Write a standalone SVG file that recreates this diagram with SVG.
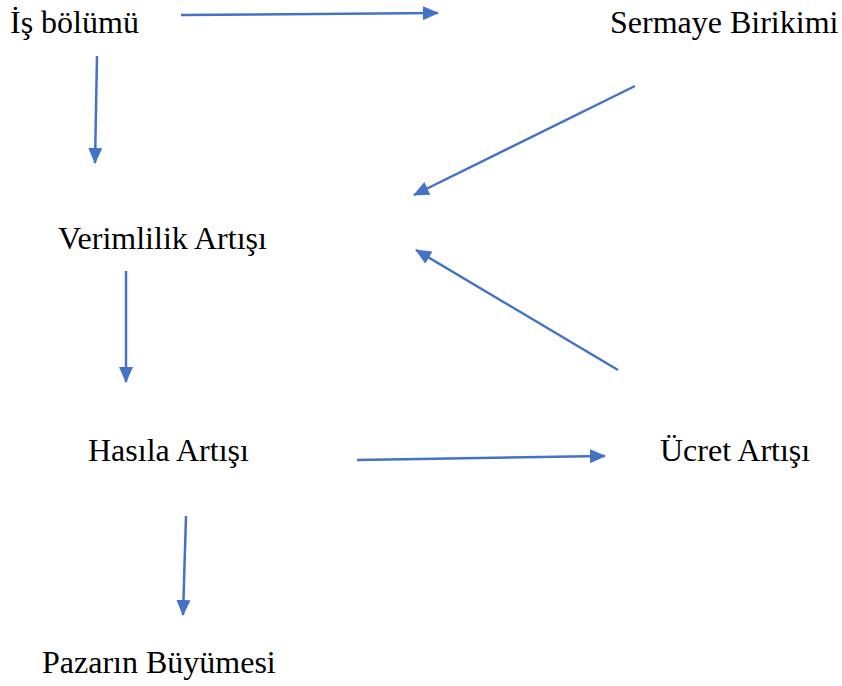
<svg xmlns="http://www.w3.org/2000/svg" width="842" height="686" viewBox="0 0 842 686">
<style>
text{font-family:"Liberation Serif","Times New Roman",serif;font-size:32px;fill:#000}
.c{stroke:#4472C4;stroke-width:2.5;fill:none;marker-end:url(#ah)}
</style>
<defs>
<marker id="ah" markerUnits="userSpaceOnUse" markerWidth="16" markerHeight="14" refX="15" refY="7" orient="auto" viewBox="0 0 16 14">
<path d="M0,0 L16,7 L0,14 Z" fill="#4472C4"/>
</marker>
</defs>
<rect width="842" height="686" fill="#fff"/>
<g id="n1"><text x="10" y="33">İş bölümü</text></g>
<g id="n2"><text x="610" y="33">Sermaye Birikimi</text></g>
<g id="n3"><text x="58" y="249">Verimlilik Artışı</text></g>
<g id="n4"><text x="88" y="461">Hasıla Artışı</text></g>
<g id="n5"><text x="660" y="461">Ücret Artışı</text></g>
<g id="n6"><text x="42" y="673">Pazarın Büyümesi</text></g>
<g id="connectors">
<line class="c" x1="181" y1="15" x2="438" y2="13"/>
<line class="c" x1="97" y1="56" x2="95" y2="163"/>
<line class="c" x1="635" y1="86" x2="414" y2="195"/>
<line class="c" x1="618" y1="370" x2="416" y2="250"/>
<line class="c" x1="126" y1="271" x2="126" y2="382"/>
<line class="c" x1="357" y1="460" x2="605" y2="456"/>
<line class="c" x1="186" y1="516" x2="183" y2="615"/>
</g>
</svg>
